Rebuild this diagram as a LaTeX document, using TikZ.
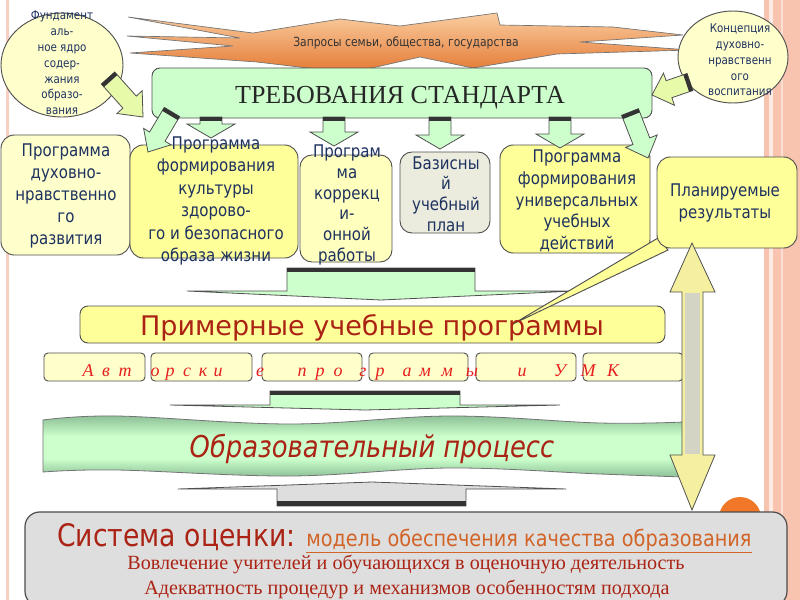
\documentclass[tikz,border=0pt]{standalone}
\usepackage{fontspec}
\setmainfont{Liberation Serif}
\newfontfamily\tah{DejaVu Sans}[FakeStretch=0.86]
\newfontfamily\dvs{DejaVu Sans}
\usetikzlibrary{shapes.geometric,fit}
\definecolor{navy}{RGB}{30,50,95}
\definecolor{ybright}{RGB}{255,255,153}
\definecolor{ypale}{RGB}{255,255,204}
\definecolor{ypaleb}{RGB}{255,255,190}
\definecolor{grayfour}{RGB}{236,236,222}
\definecolor{gpale}{RGB}{204,255,204}
\definecolor{gdark}{RGB}{140,192,150}
\definecolor{ygreen}{RGB}{230,250,170}
\definecolor{bordc}{RGB}{80,80,80}
\definecolor{dred}{RGB}{170,35,20}
\definecolor{lred}{RGB}{230,30,30}
\definecolor{orangetxt}{RGB}{210,100,40}
\definecolor{salmon}{RGB}{248,196,176}
\definecolor{burstT}{RGB}{250,205,160}
\definecolor{burstM}{RGB}{253,236,218}
\definecolor{burstB}{RGB}{228,120,50}
\definecolor{sysgray}{RGB}{222,222,222}
\definecolor{shaftgray}{RGB}{212,212,196}
\definecolor{arrowy}{RGB}{245,240,160}
\definecolor{orangedot}{RGB}{240,120,40}
\pgfdeclareverticalshading{bannershade}{100bp}{color(0bp)=(gdark); color(25bp)=(gdark); color(40bp)=(gpale); color(58bp)=(gpale); color(75bp)=(gdark); color(100bp)=(gdark)}
\begin{document}
\begin{tikzpicture}[x=0.75pt,y=-0.75pt,
  bx/.style={draw=bordc, line width=0.7pt, inner sep=0pt},
  btxt/.style={text=navy, align=center, inner sep=0pt, font=\tah\fontsize{13.1pt}{16.5pt}\selectfont},
  etxt/.style={text=navy, align=center, inner sep=0pt, font=\tah\fontsize{9pt}{11.85pt}\selectfont},
  arrG/.style={draw=bordc, line width=0.6pt, fill=gpale},
  arrY/.style={draw=bordc, line width=0.6pt, fill=ygreen},
  band/.style={fill=black!80},
  ltr/.style={text=lred, inner sep=0pt, anchor=base, font=\itshape\fontsize{13.5pt}{14pt}\selectfont},
  sbox/.style={bx, fill=ypale, rounded corners=3pt}
]
\useasboundingbox (0,0) rectangle (800,600);
\fill[white] (0,0) rectangle (800,600);
% borders
\fill[salmon!80] (6,0) rectangle (9,600);
\fill[salmon] (764,0) rectangle (800,600);
\fill[salmon!35] (769,0) rectangle (773,600);
\fill[salmon!55] (781,0) rectangle (783,600);
% starburst
\draw[draw=black!55, line width=0.5pt, top color=burstT, middle color=burstM, bottom color=burstB]
  (128,17) -- (253,33) -- (340,19) -- (400,26) -- (497,13) -- (500,25) -- (613,27) -- (683,35)
  -- (580,42) -- (690,50) -- (557,54) -- (473,68) -- (420,57) -- (350,73) -- (257,62) -- (130,53)
  -- (233,46) -- (127,36) -- (240,38) -- cycle;
% ellipses
\node[bx, ellipse, fill=ypale, minimum width=91.5pt, minimum height=78pt] (fund) at (62,65) {};
\node[bx, ellipse, fill=ypale, minimum width=82.5pt, minimum height=69pt] (konc) at (733,57) {};
% requirements box
\node[bx, fit={(152,68)(652,118)}, fill=gpale, rounded corners=6pt] (req) {};
% big flat arrow 1 and sample programs box
\draw[arrG] (287,268) -- (475,268) -- (475,291) -- (575,291) -- (381,300) -- (187,291) -- (287,291) -- cycle;
\fill[band] (287,268) rectangle (475,272);
\node[bx, fit={(80,306)(665,343)}, fill=ybright, rounded corners=6pt] (prim) {};
% row boxes
\node[bx, fit={(1,135)(130,255)}, fill=ypale, rounded corners=10pt] (b1) {};
\node[bx, fit={(130,145)(298,258)}, fill=ybright, rounded corners=10pt] (b2) {};
\node[bx, fit={(300,155)(392,262)}, fill=ypaleb, rounded corners=9pt] (b3) {};
\node[bx, fit={(400,152)(490,233)}, fill=grayfour, rounded corners=9pt] (b4) {};
\node[bx, fit={(500,145)(650,253)}, fill=ybright, rounded corners=10pt] (b5) {};
% callout wedge
\draw[bx, fill=ybright] (658,238) -- (668,250) -- (513,324) -- cycle;
\node[bx, fit={(657,157)(797,248)}, fill=ybright, rounded corners=10pt] (b6) {};
% small down arrows
\foreach \cx/\tip in {211/138, 334/146, 440/149, 560/148}{
  \draw[arrG] (\cx-11,117) -- (\cx+11,117) -- (\cx+11,\tip-14) -- (\cx+24,\tip-14) -- (\cx,\tip)
     -- (\cx-24,\tip-14) -- (\cx-11,\tip-14) -- cycle;
  \fill[band] (\cx-11,117) rectangle (\cx+11,121);
}
% diagonal arrows
\draw[arrY] (114.7,72.0) -- (136.3,96.1) -- (142.2,90.7) -- (143,117) -- (117.0,113.5) -- (122.9,108.1) -- (101.3,84.0) -- cycle;
\fill[band] (101.3,84.0) -- (114.7,72.0) -- (117.4,75.0) -- (104.0,87.0) -- cycle;
\draw[arrG] (164.3,107.4) -- (149.6,132.0) -- (143.6,128.4) -- (148,152) -- (171.0,144.8) -- (165.0,141.2) -- (179.7,116.6) -- cycle;
\fill[band] (164.3,107.4) -- (179.7,116.6) -- (177.6,120.0) -- (162.2,110.8) -- cycle;
\draw[arrY] (687.1,73.5) -- (666.1,80.7) -- (663.5,73.1) -- (652,95) -- (674.5,105.3) -- (671.9,97.7) -- (692.9,90.5) -- cycle;
\fill[band] (687.1,73.5) -- (692.9,90.5) -- (689.1,91.8) -- (683.3,74.8) -- cycle;
\draw[arrG] (638.4,108.7) -- (649.8,137.9) -- (657.2,135.0) -- (648,158) -- (625.6,147.4) -- (633.0,144.5) -- (621.6,115.3) -- cycle;
\fill[band] (638.4,108.7) -- (621.6,115.3) -- (623.1,119.0) -- (639.9,112.4) -- cycle;
% small boxes
\node[sbox, fit={(44,353)(145,381)}] (s1) {};
\node[sbox, fit={(151,353)(252,381)}] (s2) {};
\node[sbox, fit={(262,353)(362,381)}] (s3) {};
\node[sbox, fit={(369,353)(468,381)}] (s4) {};
\node[sbox, fit={(476,353)(576,381)}] (s5) {};
\node[sbox, fit={(583,353)(683,381)}] (s6) {};
\foreach \xx/\ll [count=\i] in {88/А,106/в,125/т,155/о,170/р,187/с,203/к,218/и,260/е,302/п,320/р,338/о,363/г,380/р,407/а,425/м,447/м,472/ы,522/и,560/У,588/М,613/К}
  \node[ltr] (lt\i) at (\xx,376) {\ll};
% big flat arrow 2
\draw[arrG] (270,391) -- (460,391) -- (460,405) -- (560,405) -- (365,410) -- (170,405) -- (270,405) -- cycle;
\fill[band] (270,391) rectangle (460,395);
% wavy banner
\path[shading=bannershade]
  plot[smooth, tension=0.6] coordinates {(43,420) (117,416) (290,424) (450,416) (600,423) (684,422)}
  -- (684,477)
  -- plot[smooth, tension=0.6] coordinates {(684,477) (600,474) (450,468) (290,476) (117,470) (43,472)}
  -- cycle;
\draw[black!55, line width=0.6pt]
  plot[smooth, tension=0.6] coordinates {(43,420) (117,416) (290,424) (450,416) (600,423) (684,422)}
  -- (684,477)
  -- plot[smooth, tension=0.6] coordinates {(684,477) (600,474) (450,468) (290,476) (117,470) (43,472)}
  -- cycle;
% vertical double arrow
\draw[draw=bordc, line width=0.6pt, fill=arrowy] (692,243) -- (715,292) -- (703,292) -- (703,455) -- (715,455)
  -- (692,510) -- (670,455) -- (682,455) -- (682,292) -- (670,292) -- cycle;
\fill[shaftgray] (685,293) rectangle (700,454);
% big flat arrow 3 (up, gray)
\draw[draw=bordc, line width=0.6pt, fill=sysgray] (277,506) -- (466,506) -- (466,489) -- (566,489) -- (372,482) -- (178,489) -- (277,489) -- cycle;
\fill[band] (277,501) rectangle (466,506);
% orange dot and system box
\node[circle, fill=orangedot, minimum size=31.5pt, inner sep=0pt] (dot) at (740,518) {};
\node[draw=black!70, line width=0.9pt, inner sep=0pt, fit={(25,512)(787,606)}, fill=sysgray, rounded corners=11pt] (sys) {};
% texts
\node[inner sep=0pt, anchor=base, text=black!80, font=\tah\fontsize{9.4pt}{11pt}\selectfont] (zap) at (406,46.5) {Запросы семьи, общества, государства};
\node[etxt] (fundt) at (62,63) {Фундамент\\аль-\\ное ядро\\содер-\\жания\\образо-\\вания};
\node[etxt] (konct) at (740,60) {Концепция\\духовно-\\нравственн\\ого\\воспитания};
\node[inner sep=0pt, anchor=base, text=black!85, font=\fontsize{19.5pt}{22pt}\selectfont] (reqt) at (400,103) {ТРЕБОВАНИЯ СТАНДАРТА};
\node[btxt] (b1t) at (66,196) {Программа\\духовно-\\нравственно\\го\\развития};
\node[btxt, font=\tah\fontsize{13.1pt}{16.8pt}\selectfont] (b2t) at (216,201) {Программа\\формирования\\культуры\\здорово-\\го и безопасного\\образа жизни};
\node[btxt, font=\tah\fontsize{13.1pt}{15.6pt}\selectfont] (b3t) at (347,205) {Програм\\ма\\коррекц\\и-\\онной\\работы};
\node[btxt, font=\tah\fontsize{13.1pt}{15.5pt}\selectfont] (b4t) at (446,194) {Базисны\\й\\учебный\\план};
\node[btxt, font=\tah\fontsize{13.1pt}{16.3pt}\selectfont] (b5t) at (577,201) {Программа\\формирования\\универсальных\\учебных\\действий};
\node[btxt] (b6t) at (725,203) {Планируемые\\результаты};
\node[inner sep=0pt, anchor=base, text=dred, font=\dvs\fontsize{20.25pt}{22pt}\selectfont] (primt) at (372,335) {Примерные учебные программы};
\node[inner sep=0pt, anchor=base, text=dred, font=\tah\itshape\fontsize{22.5pt}{24pt}\selectfont] (proct) at (372,457) {Образовательный процесс};
\node[inner sep=0pt, anchor=base west, text=dred, font=\tah\fontsize{23.25pt}{25pt}\selectfont] (syst) at (57,546) {Система оценки:};
\node[inner sep=0pt, anchor=base west, text=orangetxt, font=\tah\fontsize{16.8pt}{18pt}\selectfont] (modt) at (306,546) {\underline{модель обеспечения качества образования}};
\node[inner sep=0pt, anchor=base, text=dred, font=\fontsize{15.1pt}{16pt}\selectfont] (line2) at (406,569) {Вовлечение учителей и обучающихся в оценочную деятельность};
\node[inner sep=0pt, anchor=base, text=dred, font=\fontsize{15.1pt}{16pt}\selectfont] (line3) at (407,594) {Адекватность процедур и механизмов особенностям подхода};
\end{tikzpicture}
\end{document}
